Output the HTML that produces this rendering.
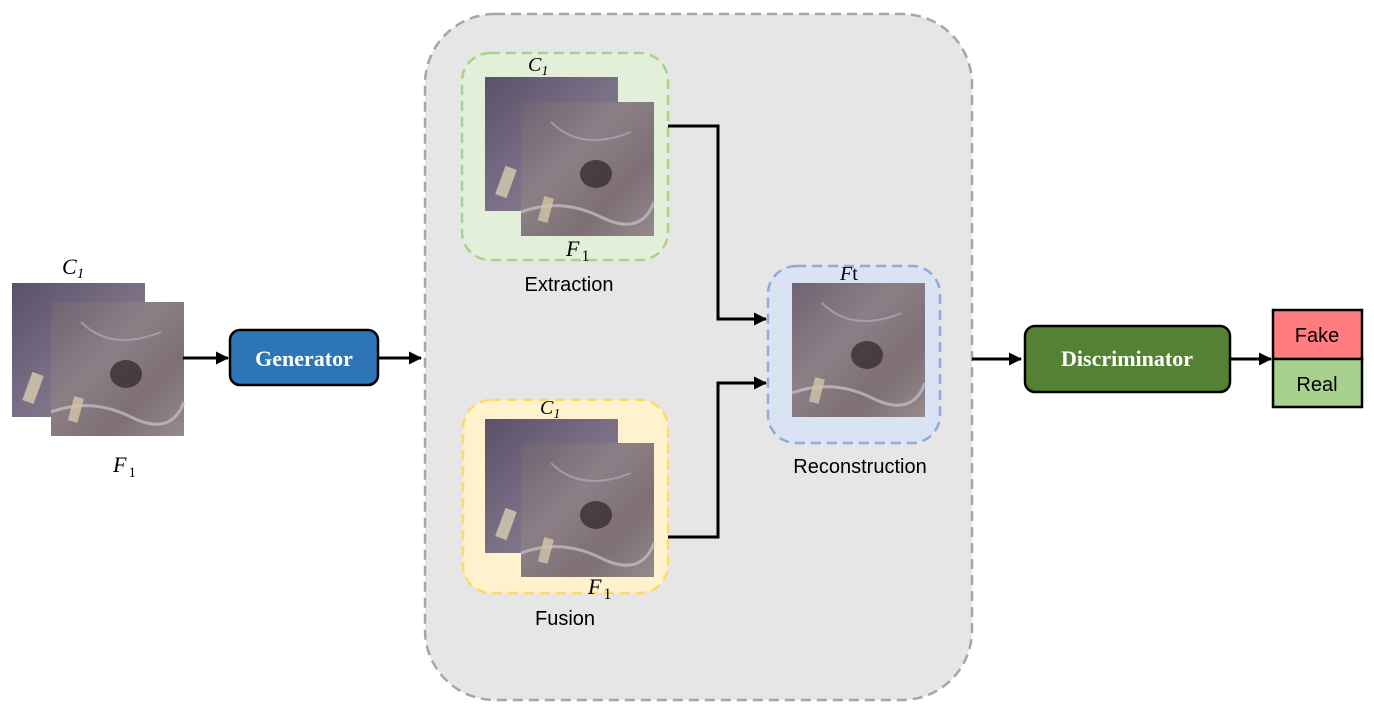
<!DOCTYPE html>
<html><head><meta charset="utf-8"><style>
html,body{margin:0;padding:0;background:#fff;}
svg{display:block;}
</style></head><body>
<svg width="1374" height="715" viewBox="0 0 1374 715" xmlns="http://www.w3.org/2000/svg" font-family="Liberation Sans, sans-serif">
<defs>
<linearGradient id="sat" x1="0" y1="0" x2="1" y2="1">
<stop offset="0" stop-color="#6f6373"/><stop offset="0.4" stop-color="#8c7f86"/><stop offset="0.7" stop-color="#7d6f75"/><stop offset="1" stop-color="#958a8c"/>
</linearGradient>
<linearGradient id="satb" x1="0" y1="0" x2="1" y2="1">
<stop offset="0" stop-color="#5a5068"/><stop offset="0.5" stop-color="#7a6f85"/><stop offset="1" stop-color="#8f8a98"/>
</linearGradient>
<g id="front">
<rect width="133" height="134" fill="url(#sat)"/>
<ellipse cx="75" cy="72" rx="16" ry="14" fill="#3a2e34" opacity="0.8"/>
<path d="M0 110 Q40 95 80 115 T133 100" stroke="#c8c4cc" stroke-width="3" fill="none" opacity="0.7"/>
<path d="M30 20 Q60 50 110 30" stroke="#b9b3c2" stroke-width="2" fill="none" opacity="0.6"/>
<rect x="20" y="95" width="10" height="25" fill="#d4c6a8" opacity="0.8" transform="rotate(15 25 107)"/>
</g>
<g id="back">
<rect width="133" height="134" fill="url(#satb)"/>
<rect x="15" y="90" width="12" height="30" fill="#d8ccb0" opacity="0.8" transform="rotate(20 21 105)"/>
</g>
<marker id="ah" markerWidth="13" markerHeight="13" refX="12" refY="6.5" orient="auto" markerUnits="userSpaceOnUse"><path d="M0 0 L13 6.5 L0 13 z" fill="#000"/></marker>
</defs>

<use href="#back" x="12" y="283"/>
<use href="#front" x="51" y="302"/>
<text x="62" y="274" font-family="Liberation Serif, serif" font-style="italic" font-size="22">C<tspan font-size="15" dy="4">1</tspan></text>
<text x="113" y="472" font-family="Liberation Serif, serif" font-style="italic" font-size="22">F<tspan font-style="normal" font-size="15" dy="5" dx="2">1</tspan></text>

<line x1="183" y1="358" x2="228" y2="358" stroke="#000" stroke-width="3" marker-end="url(#ah)"/>
<rect x="230" y="330" width="148" height="55" rx="10" fill="#2e75b6" stroke="#000" stroke-width="2.5"/>
<text x="304" y="366" text-anchor="middle" font-family="Liberation Serif, serif" font-weight="bold" font-size="22" fill="#fff">Generator</text>
<line x1="378" y1="358" x2="421" y2="358" stroke="#000" stroke-width="3" marker-end="url(#ah)"/>

<rect x="425" y="14" width="547" height="686" rx="70" fill="#e6e6e6" stroke="#a6a6a6" stroke-width="2.5" stroke-dasharray="10 6"/>

<rect x="462" y="53" width="206" height="207" rx="28" fill="#e2efd9" stroke="#a9d18e" stroke-width="2.5" stroke-dasharray="10 6"/>
<use href="#back" x="485" y="77"/>
<use href="#front" x="521" y="102"/>
<text x="528" y="71" font-family="Liberation Serif, serif" font-style="italic" font-size="20">C<tspan font-size="14" dy="4">1</tspan></text>
<text x="566" y="256" font-family="Liberation Serif, serif" font-style="italic" font-size="22">F<tspan font-style="normal" font-size="16" dy="5" dx="2">1</tspan></text>
<text x="569" y="291" text-anchor="middle" font-size="20">Extraction</text>

<rect x="463" y="400" width="205" height="193" rx="28" fill="#fff2cc" stroke="#ffd966" stroke-width="2.5" stroke-dasharray="10 6"/>
<use href="#back" x="485" y="419"/>
<use href="#front" x="521" y="443"/>
<text x="540" y="414" font-family="Liberation Serif, serif" font-style="italic" font-size="20">C<tspan font-size="14" dy="4">1</tspan></text>
<text x="588" y="594" font-family="Liberation Serif, serif" font-style="italic" font-size="22">F<tspan font-style="normal" font-size="16" dy="5" dx="2">1</tspan></text>
<text x="565" y="625" text-anchor="middle" font-size="20">Fusion</text>

<polyline points="668,126 718,126 718,319 766,319" fill="none" stroke="#000" stroke-width="3" marker-end="url(#ah)"/>
<polyline points="668,537 718,537 718,383 766,383" fill="none" stroke="#000" stroke-width="3" marker-end="url(#ah)"/>

<rect x="768" y="266" width="172" height="177" rx="28" fill="#dae3f3" stroke="#8faadc" stroke-width="2.5" stroke-dasharray="10 6"/>
<use href="#front" x="792" y="283"/>
<text x="840" y="280" font-family="Liberation Serif, serif" font-style="italic" font-size="20">F<tspan font-style="normal">t</tspan></text>
<text x="860" y="473" text-anchor="middle" font-size="20">Reconstruction</text>

<line x1="972" y1="359" x2="1021" y2="359" stroke="#000" stroke-width="3" marker-end="url(#ah)"/>
<rect x="1025" y="326" width="205" height="66" rx="10" fill="#548235" stroke="#000" stroke-width="2.5"/>
<text x="1127" y="366" text-anchor="middle" font-family="Liberation Serif, serif" font-weight="bold" font-size="22" fill="#fff">Discriminator</text>
<line x1="1230" y1="359" x2="1271" y2="359" stroke="#000" stroke-width="3" marker-end="url(#ah)"/>

<rect x="1273" y="310" width="89" height="49" fill="#ff7c80" stroke="#000" stroke-width="2.5"/>
<rect x="1273" y="359" width="89" height="48" fill="#a9d18e" stroke="#000" stroke-width="2.5"/>
<text x="1317" y="342" text-anchor="middle" font-size="20">Fake</text>
<text x="1317" y="391" text-anchor="middle" font-size="20">Real</text>
</svg>
</body></html>
